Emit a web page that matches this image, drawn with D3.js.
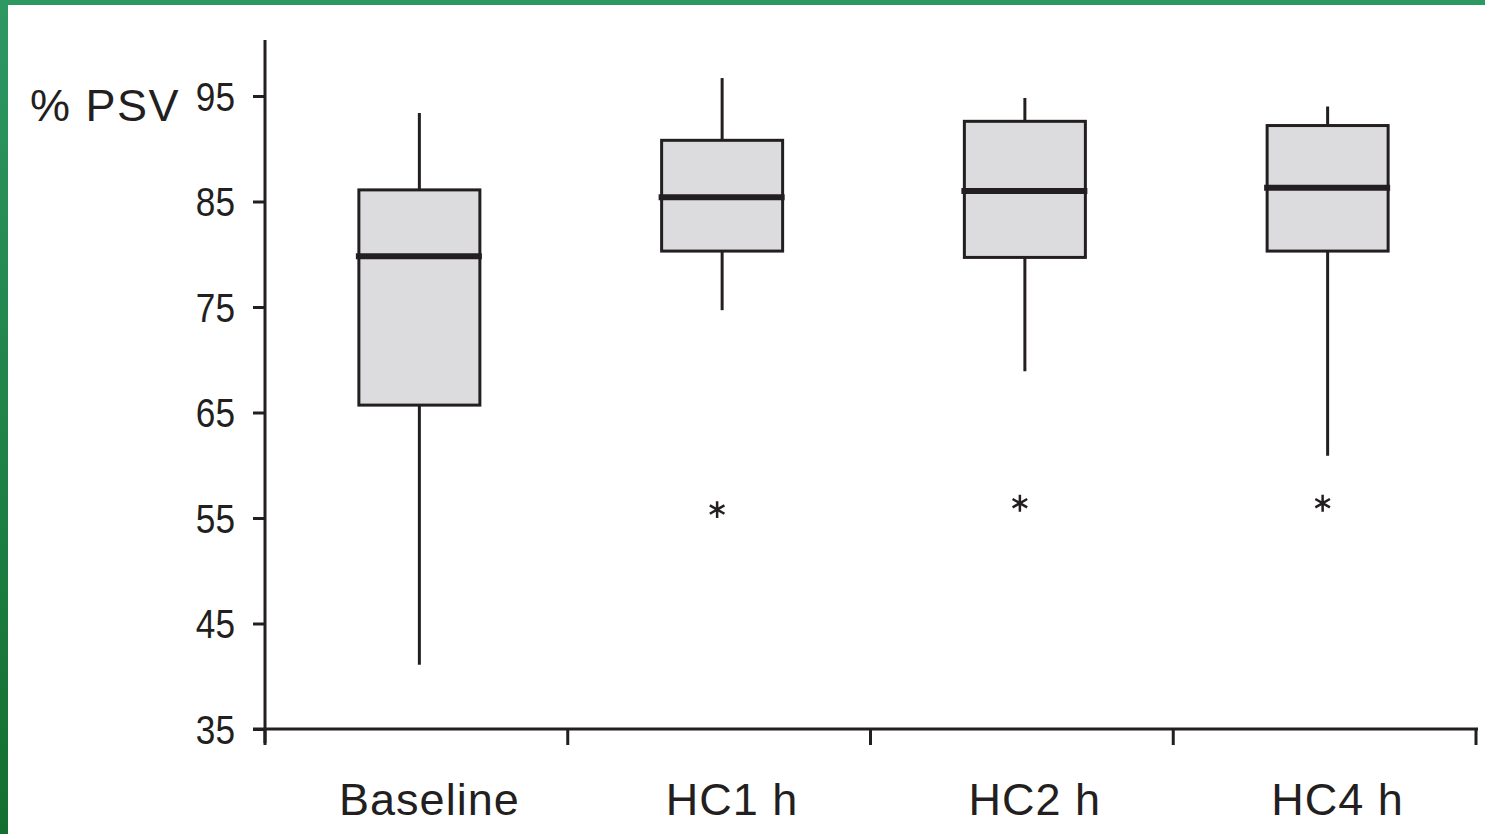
<!DOCTYPE html>
<html>
<head>
<meta charset="utf-8">
<script src="https://cdn.jsdelivr.net/npm/d3@7"></script>
<style>
  html, body { margin: 0; padding: 0; background: #fff; overflow: hidden; }
  text { font-family: "Liberation Sans", Arial, sans-serif; fill: #231f20; }
</style>
</head>
<body>
<div id="container"></div>
<script>
/* CONSTANTS AND GLOBALS */
const width = 1485;
const height = 834;
const ink = "#231f20";

/* DATA */
const groups = ["Baseline", "HC1 h", "HC2 h", "HC4 h"];
const whiskerLow = [41.1, 74.7, 68.9, 60.9];
const q1 = [65.7, 80.3, 79.7, 80.3];
const medians = [79.8, 85.4, 86.0, 86.3];
const q3 = [86.1, 90.8, 92.6, 92.2];
const whiskerHigh = [93.4, 96.7, 94.8, 94.0];
const outliers = [null, 55.8, 56.4, 56.4];
const yTicks = [35, 45, 55, 65, 75, 85, 95];

const data = groups.map((g, i) => ({
  group: g, lo: whiskerLow[i], q1: q1[i], med: medians[i], q3: q3[i], hi: whiskerHigh[i], out: outliers[i]
}));

/* SCALES */
const yScale = d3.scaleLinear()
  .domain([35, 95])
  .range([729, 96]);

const xScale = d3.scaleBand()
  .domain(groups)
  .range([265, 1476]);

const boxW = 121;
const labelScale = 0.88; // tick digits are drawn a bit narrow

/* SVG */
const svg = d3.select("#container")
  .append("svg")
  .attr("width", width)
  .attr("height", height)
  .style("display", "block");

// green frame
const grad = svg.append("defs").append("linearGradient")
  .attr("id", "frame")
  .attr("x1", 0).attr("y1", 0).attr("x2", 0).attr("y2", 1);
grad.append("stop").attr("offset", "0%").attr("stop-color", "#2e9863");
grad.append("stop").attr("offset", "100%").attr("stop-color", "#136f2e");

svg.append("rect").attr("x", 0).attr("y", 0).attr("width", width).attr("height", 5).attr("fill", "#2e9863");
svg.append("rect").attr("x", 0).attr("y", 0).attr("width", 8).attr("height", height).attr("fill", "url(#frame)");

// y axis
const yAxis = svg.append("g")
  .attr("transform", "translate(265,0)")
  .call(d3.axisLeft(yScale).tickValues(yTicks).tickSize(12).tickPadding(18).tickFormat(d3.format("d")));
yAxis.select(".domain").remove();
yAxis.selectAll(".tick line").attr("stroke", ink).attr("stroke-width", 3);
yAxis.selectAll(".tick text")
  .attr("font-size", 40)
  .attr("x", -30 / labelScale)
  .attr("dy", "0.36em")
  .attr("transform", `scale(${labelScale},1)`);

svg.append("line")
  .attr("x1", 265).attr("x2", 265)
  .attr("y1", 40).attr("y2", 743)
  .attr("stroke", ink).attr("stroke-width", 3);

// x axis
svg.append("line")
  .attr("x1", 253).attr("x2", 1478)
  .attr("y1", yScale(35)).attr("y2", yScale(35))
  .attr("stroke", ink).attr("stroke-width", 3);

const xTickPos = groups.map(g => xScale(g)).concat([xScale.range()[1]]);
svg.selectAll("line.xtick")
  .data(xTickPos)
  .join("line")
  .attr("class", "xtick")
  .attr("x1", d => d).attr("x2", d => d)
  .attr("y1", yScale(35)).attr("y2", 745)
  .attr("stroke", ink).attr("stroke-width", 3);

svg.selectAll("text.xlabel")
  .data(groups)
  .join("text")
  .attr("class", "xlabel")
  .attr("x", d => xScale(d) + xScale.bandwidth() / 2 + 13)
  .attr("y", 815)
  .attr("text-anchor", "middle")
  .attr("font-size", 45)
  .attr("letter-spacing", 1)
  .text(d => d);

// y title
svg.append("text")
  .attr("x", 30)
  .attr("y", 121)
  .attr("font-size", 45)
  .attr("letter-spacing", 1.5)
  .text("% PSV");

// boxes
const cx = d => xScale(d.group) + xScale.bandwidth() / 2 + 3;

const boxes = svg.selectAll("g.box")
  .data(data)
  .join("g")
  .attr("class", "box");

boxes.append("line")
  .attr("x1", cx).attr("x2", cx)
  .attr("y1", d => yScale(d.hi)).attr("y2", d => yScale(d.lo))
  .attr("stroke", ink).attr("stroke-width", 3);

boxes.append("rect")
  .attr("x", d => cx(d) - boxW / 2)
  .attr("y", d => yScale(d.q3))
  .attr("width", boxW)
  .attr("height", d => yScale(d.q1) - yScale(d.q3))
  .attr("fill", "#dcdcde")
  .attr("stroke", ink)
  .attr("stroke-width", 3);

boxes.append("line")
  .attr("x1", d => cx(d) - boxW / 2 - 3).attr("x2", d => cx(d) + boxW / 2 + 2)
  .attr("y1", d => yScale(d.med)).attr("y2", d => yScale(d.med))
  .attr("stroke", ink).attr("stroke-width", 6);

// outliers
svg.selectAll("path.outlier")
  .data(data.filter(d => d.out != null))
  .join("path")
  .attr("class", "outlier")
  .attr("transform", d => `translate(${cx(d) - 5},${yScale(d.out)})`)
  .attr("d", d3.symbol(d3.symbolAsterisk, 200))
  .attr("stroke", ink)
  .attr("stroke-width", 2.5)
  .attr("fill", "none");
</script>
</body>
</html>
